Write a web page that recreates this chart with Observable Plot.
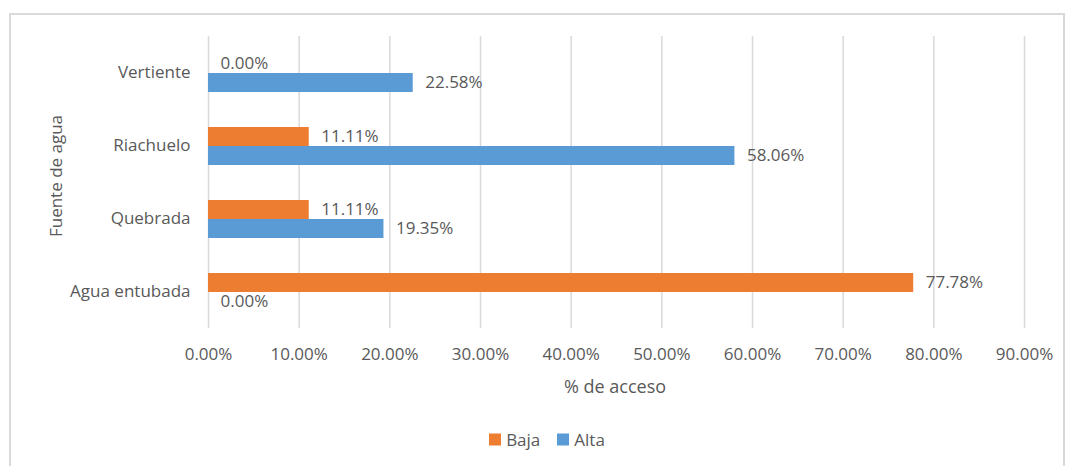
<!DOCTYPE html>
<html><head><meta charset="utf-8">
<script src="https://cdn.jsdelivr.net/npm/d3@7"></script>
<script src="https://cdn.jsdelivr.net/npm/@observablehq/plot@0.6"></script>
<style>
body{margin:0;background:#fff;font-family:"Open Sans",sans-serif;width:1065px;height:466px;overflow:hidden;position:relative;}
#frame{position:absolute;left:9px;top:13px;width:1056px;height:500px;border:2px solid #d9d9d9;box-sizing:border-box;}
#chart{position:absolute;left:0;top:0;}
.lbl{position:absolute;color:#595959;font-size:17px;white-space:nowrap;line-height:1;}
#ytitle{left:55px;top:176px;font-size:17px;transform:translate(-50%,-50%) rotate(-90deg);}
#xtitle{left:615px;top:386px;font-size:18px;transform:translate(-50%,-50%);}
#legend{left:0;width:1094px;top:439px;transform:translateY(-50%);display:flex;justify-content:center;gap:17px;}
.item{display:flex;align-items:center;gap:5px;}
.sw{width:12px;height:12px;display:inline-block;}
</style></head><body>
<div id="frame"></div>
<div id="chart"></div>
<div id="ytitle" class="lbl"></div>
<div id="xtitle" class="lbl"></div>
<div id="legend" class="lbl"></div>
<script>
const categories = ["Vertiente", "Riachuelo", "Quebrada", "Agua entubada"];
const series = ["Baja", "Alta"];
const colors = ["#ED7D31", "#5B9BD5"];
const baja = [0, 0.1111, 0.1111, 0.7778];
const alta = [0.2258, 0.5806, 0.1935, 0];
const xTicks = [0, 0.1, 0.2, 0.3, 0.4, 0.5, 0.6, 0.7, 0.8, 0.9];
const xTitle = "% de acceso";
const yTitle = "Fuente de agua";

const rows = categories.flatMap((c, i) => [
  {cat: c, s: "Baja", v: baja[i]},
  {cat: c, s: "Alta", v: alta[i]}
]);
const fmt = d3.format(".2%");

const plot = Plot.plot({
  width: 1065, height: 400,
  marginLeft: 208, marginRight: 41, marginTop: 36, marginBottom: 72,
  style: {fontFamily: "Open Sans", fontSize: "17px", color: "#595959", background: "transparent"},
  x: {domain: [0, 0.9], ticks: xTicks, tickFormat: fmt, tickSize: 0, tickPadding: 19, label: null},
  fy: {domain: categories, padding: 0, round: true, axis: "left", tickSize: 0, tickPadding: 18, label: null},
  y: {domain: series, paddingInner: 0, paddingOuter: 0.914, axis: null},
  color: {domain: series, range: colors},
  marks: [
    Plot.gridX(xTicks, {stroke: "#d9d9d9", strokeOpacity: 1, strokeWidth: 1.5}),
    Plot.barX(rows, {x: "v", y: "s", fy: "cat", fill: "s"}),
    Plot.text(rows, {x: "v", y: "s", fy: "cat", text: d => fmt(d.v), textAnchor: "start", dx: 12, fill: "#595959"})
  ]
});
document.getElementById("chart").appendChild(plot);
document.getElementById("ytitle").textContent = yTitle;
document.getElementById("xtitle").textContent = xTitle;
const leg = document.getElementById("legend");
series.forEach((s, i) => {
  const it = document.createElement("span");
  it.className = "item";
  const sw = document.createElement("span");
  sw.className = "sw";
  sw.style.background = colors[i];
  const t = document.createElement("span");
  t.textContent = s;
  it.appendChild(sw); it.appendChild(t);
  leg.appendChild(it);
});
</script>
</body></html>
